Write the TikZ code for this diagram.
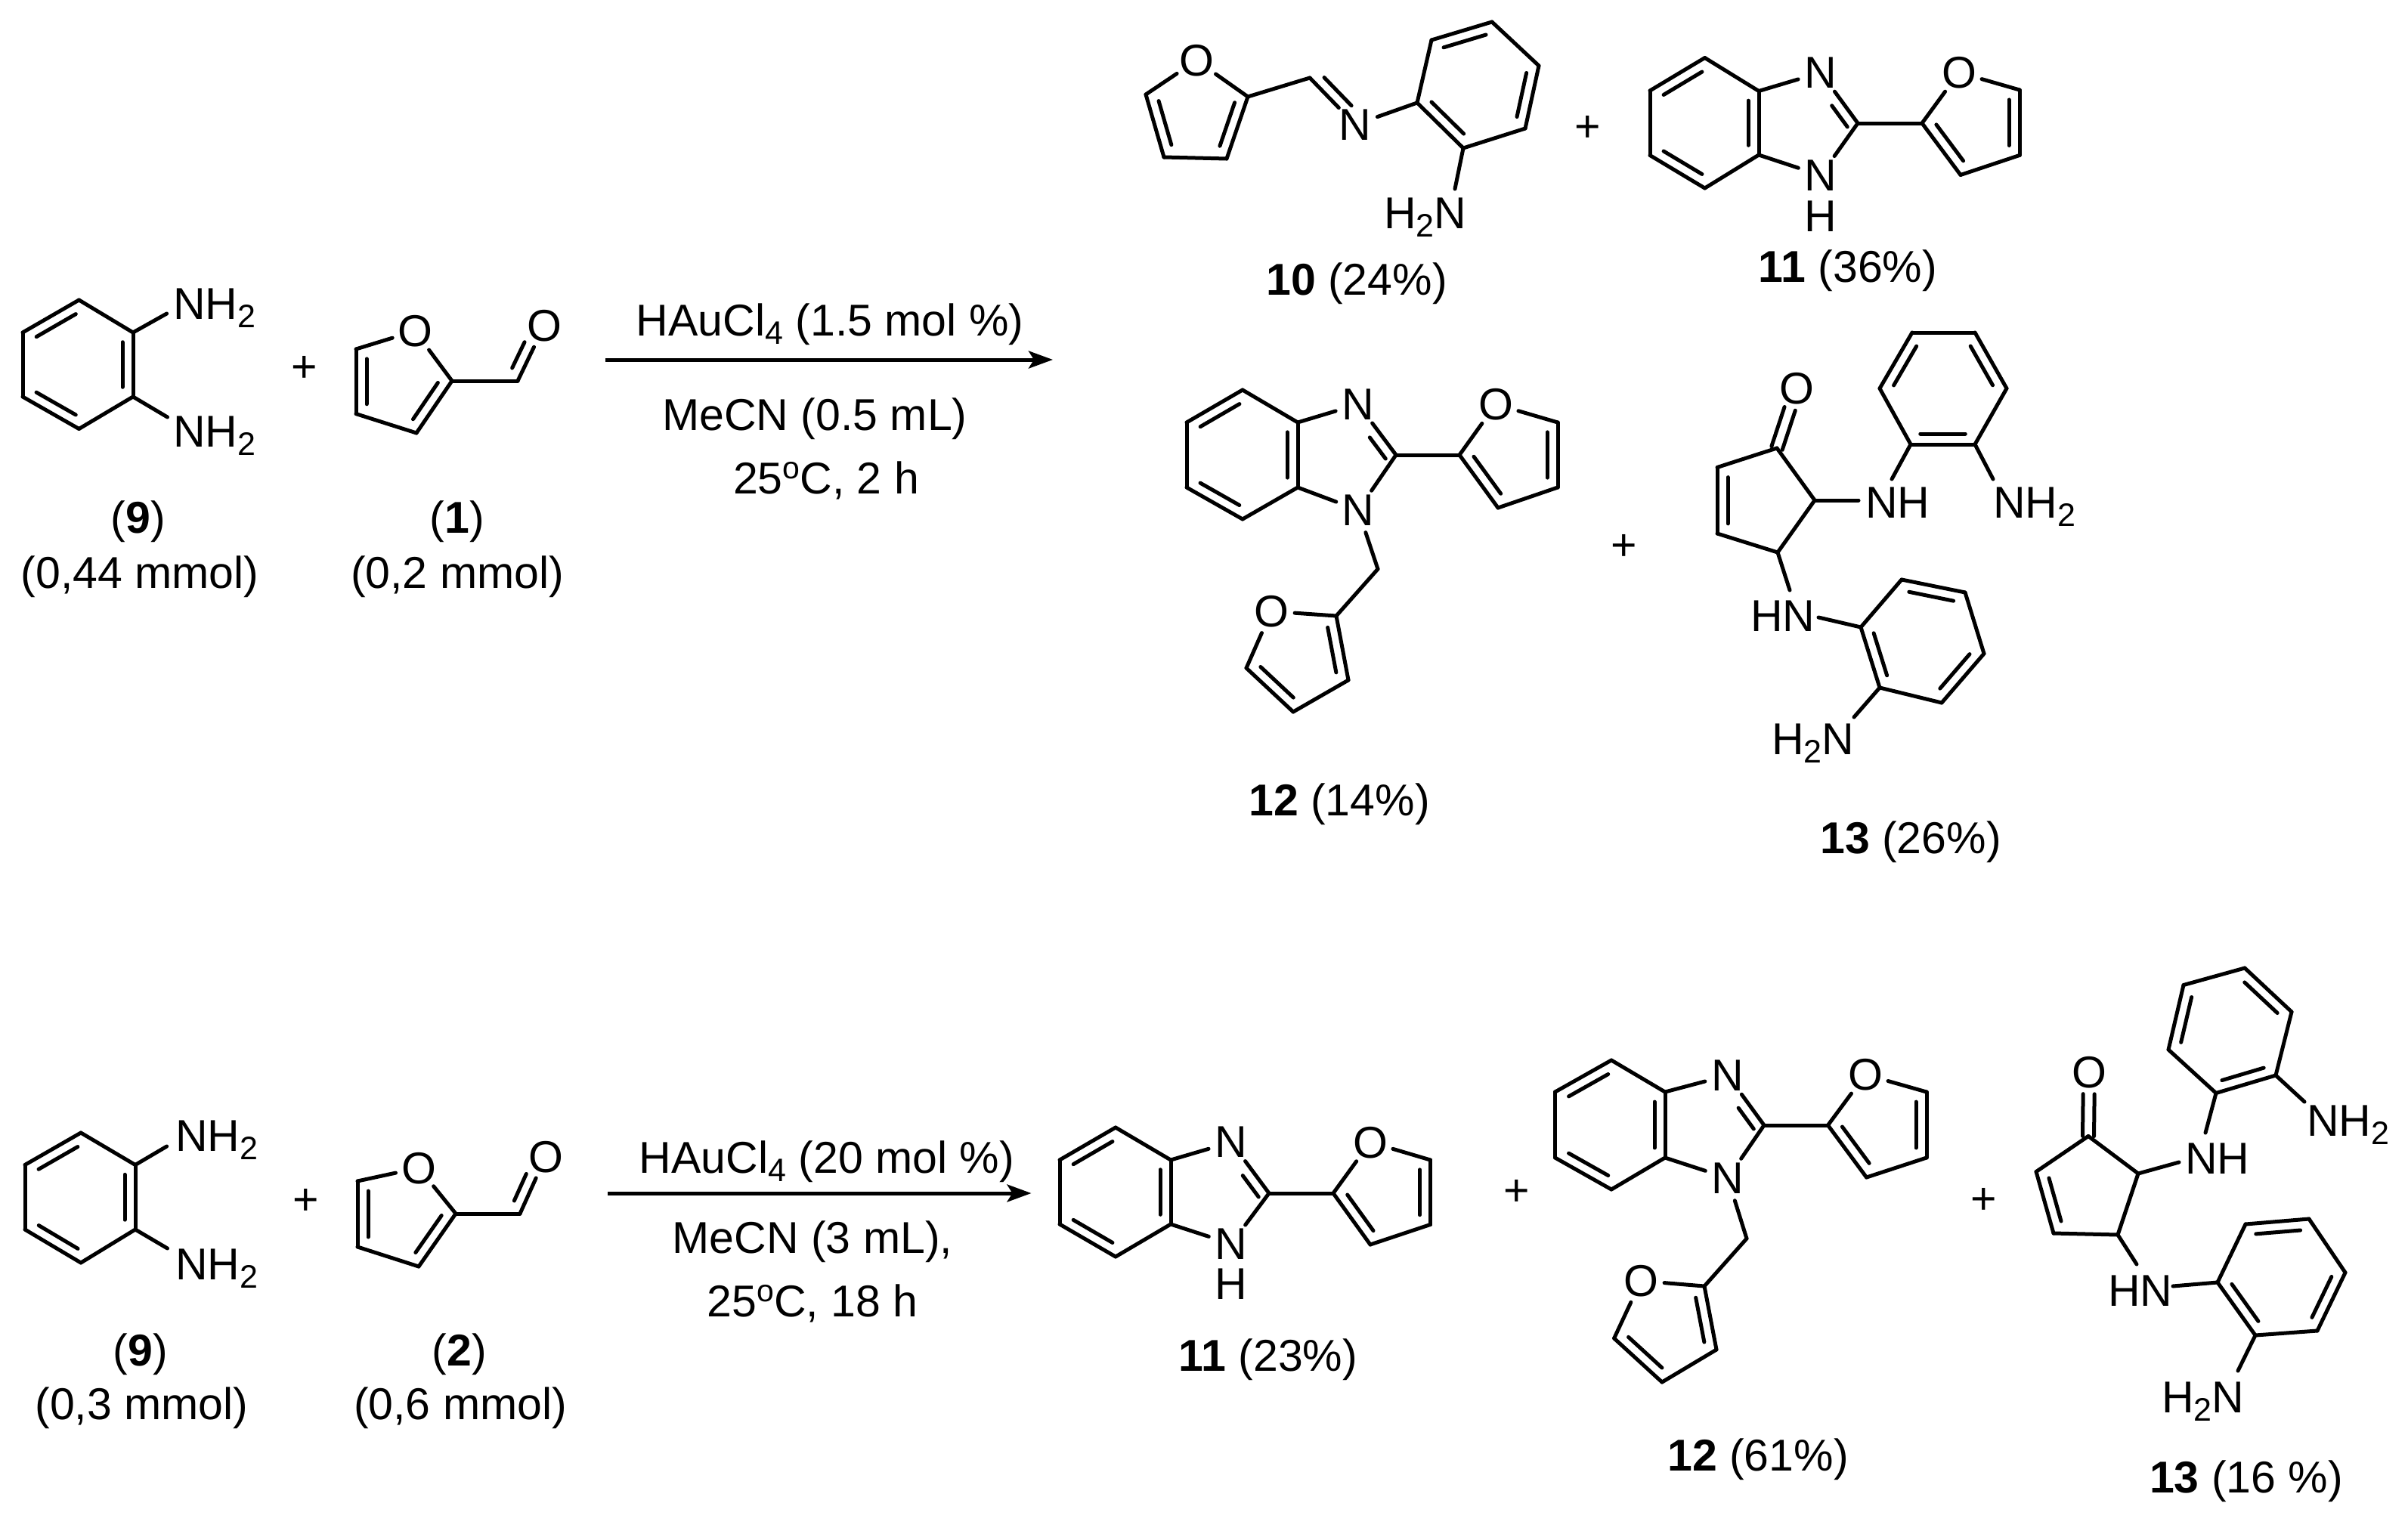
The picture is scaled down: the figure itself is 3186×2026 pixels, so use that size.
\documentclass[tikz,border=0pt]{standalone}
\usepackage{fontspec}
\setmainfont{Liberation Sans}
\usetikzlibrary{calc,arrows.meta}
\newcommand\chsub[1]{\raisebox{-11pt}{\fontsize{43}{43}\selectfont #1}}
\newcommand\chsup[1]{\raisebox{20pt}{\fontsize{41}{41}\selectfont #1}}
\newcommand\atm[3]{\coordinate (#1) at (#2,#3);}
\newcommand\het[4]{\node[hetero] (#1) at (#2,#3) {#4};}
\newcommand\bnd[2]{\draw[bond] (#1) -- (#2);}
% double bond: inner line on the right of the direction a->b
\newcommand\dbl[2]{\draw[bond] (#1) -- (#2);
  \draw[bond] ($(#1)!.15!(#2)!14pt!-90:(#2)$) -- ($(#2)!.15!(#1)!14pt!90:(#1)$);}
% double bond to a hetero atom: inner line from ratio r1 to r2
\newcommand\dpt[4]{\draw[bond] (#1) -- (#2);
  \draw[bond] ($(#1)!#3!(#2)!14pt!-90:(#2)$) -- ($(#1)!#4!(#2)!14pt!-90:(#2)$);}
% symmetric double bond a=b
\newcommand\sbl[2]{%
  \draw[bond] ($(#1)!7.5pt!90:(#2)$) -- ($(#1)!.66!(#2)!7.5pt!90:(#2)$);
  \draw[bond] ($(#1)!7.5pt!-90:(#2)$) -- ($(#1)!.66!(#2)!7.5pt!-90:(#2)$);}
\begin{document}
\begin{tikzpicture}[x=1pt,y=-1pt,
  font=\fontsize{59}{64}\selectfont,
  bond/.style={line width=5pt,line cap=round,line join=round},
  rxn/.style={line width=5pt,-{Stealth[length=32pt,width=23pt,inset=7pt]}},
  hetero/.style={circle,inner sep=0pt,minimum size=62pt,text depth=0pt},
  txtc/.style={inner sep=0pt,anchor=base},
  txtl/.style={inner sep=0pt,anchor=base west},
  pluss/.style={inner sep=0pt,anchor=center,text depth=0pt}]
\useasboundingbox (0,0) rectangle (3186,2026);
\fill[white] (0,0) rectangle (3186,2026);

% ---------- top reaction: 9 ----------
\atm{a1}{104.5}{397}\atm{a2}{176}{440}\atm{a3}{176}{525}\atm{a4}{104.5}{567.5}\atm{a5}{30}{525}\atm{a6}{30}{440}
\dbl{a6}{a1}\bnd{a1}{a2}\dbl{a2}{a3}\bnd{a3}{a4}\dbl{a4}{a5}\bnd{a5}{a6}
\node[txtl] (anh1) at (229,422) {NH\chsub{2}};
\node[txtl] (anh2) at (229,591) {NH\chsub{2}};
\atm{ae1}{220.6}{415}\atm{ae2}{221.5}{552}
\bnd{a2}{ae1}\bnd{a3}{ae2}
\node[pluss] (p1) at (403,488) {+};
% furfural 1
\het{bO}{549}{438}{O}\atm{b2}{598}{504}\atm{b3}{551}{573}\atm{b4}{471}{547.6}\atm{b5}{471}{462}\atm{b6}{685}{504}
\het{bO2}{720}{431}{O}
\bnd{bO}{b2}\dbl{b2}{b3}\bnd{b3}{b4}\dbl{b4}{b5}\bnd{b5}{bO}\bnd{b2}{b6}\dpt{bO2}{b6}{.38}{.85}
\node[txtc] (t9a) at (183,705) {(\textbf{9})};
\node[txtc] (t9b) at (185,778) {(0,44 mmol)};
\node[txtc] (t1a) at (605,705) {(\textbf{1})};
\node[txtc] (t1b) at (605,778) {(0,2 mmol)};
% arrow 1
\coordinate (r1s) at (801,476);\coordinate (r1e) at (1393,476);
\draw[rxn] (r1s) -- (r1e);
\node[txtc] (c1a) at (1098,444) {HAuCl\chsub{4} (1.5 mol \%)};
\node[txtc] (c1b) at (1078,569) {MeCN (0.5 mL)};
\node[txtc] (c1c) at (1093,653) {25\chsup{o}C, 2 h};

% ---------- 10 ----------
\het{cO}{1583}{80}{O}\atm{c2}{1651}{128}\atm{c3}{1623}{210}\atm{c4}{1540}{208}\atm{c5}{1516}{125}
\bnd{cO}{c2}\dbl{c2}{c3}\bnd{c3}{c4}\dbl{c4}{c5}\bnd{c5}{cO}
\atm{c6}{1733}{103}\het{cN}{1793}{165}{N}
\bnd{c2}{c6}\dpt{cN}{c6}{.25}{.85}
\atm{c7}{1875}{136}\atm{c8}{1894}{53}\atm{c9}{1974}{29}\atm{c10}{2036}{87}\atm{c11}{2018}{170}\atm{c12}{1936}{196}
\bnd{cN}{c7}\bnd{c7}{c8}\dbl{c8}{c9}\bnd{c9}{c10}\dbl{c10}{c11}\bnd{c11}{c12}\dbl{c12}{c7}
\node[txtl] (cnh) at (1831,302) {H\chsub{2}N};
\atm{ce}{1925}{250}\bnd{c12}{ce}
\node[txtc] (t10) at (1795,390) {\textbf{10} (24\%)};
\node[pluss] (p2) at (2101,170) {+};

% ---------- 11 top ----------
\atm{d1}{2255.6}{76.5}\atm{d2}{2327}{120.5}\atm{d3}{2327}{205}\atm{d4}{2255.6}{249}\atm{d5}{2183}{205.5}\atm{d6}{2183}{120}
\dbl{d6}{d1}\bnd{d1}{d2}\dbl{d2}{d3}\bnd{d3}{d4}\dbl{d4}{d5}\bnd{d5}{d6}
\het{dN1}{2409}{96}{N}\het{dN2}{2409}{232}{N}
\node[pluss] (dH) at (2409,286) {H};
\atm{d7}{2458}{163}
\bnd{d2}{dN1}\dpt{dN1}{d7}{.53}{.95}\bnd{d7}{dN2}\bnd{dN2}{d3}
\atm{d8}{2543}{163}\het{dO}{2592}{96}{O}\atm{d9}{2672}{119}\atm{d10}{2672}{205.5}\atm{d11}{2594}{231.5}
\bnd{d7}{d8}\bnd{d8}{dO}\bnd{dO}{d9}\dbl{d9}{d10}\bnd{d10}{d11}\dbl{d11}{d8}
\node[txtc] (t11) at (2445,373) {\textbf{11} (36\%)};

% ---------- 12 top ----------
\atm{e1}{1644}{516}\atm{e2}{1717}{559}\atm{e3}{1717}{645}\atm{e4}{1644}{687}\atm{e5}{1570}{645}\atm{e6}{1570}{559}
\dbl{e6}{e1}\bnd{e1}{e2}\dbl{e2}{e3}\bnd{e3}{e4}\dbl{e4}{e5}\bnd{e5}{e6}
\het{eN1}{1797}{535}{N}\het{eN2}{1797}{675}{N}\atm{e7}{1847}{602}
\bnd{e2}{eN1}\dpt{eN1}{e7}{.53}{.95}\bnd{e7}{eN2}\bnd{eN2}{e3}
\atm{e8}{1931}{602}\het{eO}{1979}{535}{O}\atm{e9}{2061}{559}\atm{e10}{2061}{645}\atm{e11}{1982}{672}
\bnd{e7}{e8}\bnd{e8}{eO}\bnd{eO}{e9}\dbl{e9}{e10}\bnd{e10}{e11}\dbl{e11}{e8}
\atm{e12}{1823}{753}\atm{e13}{1768}{815}\het{eO2}{1682}{809}{O}\atm{e14}{1784}{900}\atm{e15}{1711}{942}\atm{e16}{1649}{884}
\bnd{eN2}{e12}\bnd{e12}{e13}\dbl{e13}{e14}\bnd{e14}{e15}\dbl{e15}{e16}\bnd{e16}{eO2}\bnd{eO2}{e13}
\node[txtc] (t12) at (1772,1079) {\textbf{12} (14\%)};
\node[pluss] (p3) at (2149,724.5) {+};

% ---------- 13 top ----------
\het{fO}{2377}{514}{O}\atm{f1}{2351}{593}\atm{f2}{2401}{662}\atm{f3}{2352}{731}\atm{f4}{2272}{706}\atm{f5}{2272}{618.5}
\sbl{f1}{fO}\bnd{f1}{f2}\bnd{f2}{f3}\bnd{f3}{f4}\dbl{f4}{f5}\bnd{f5}{f1}
\node[txtl] (fnh) at (2468,685) {NH};
\atm{fe1}{2459}{662}\bnd{f2}{fe1}
\atm{g1}{2528}{588}\atm{g2}{2487}{514}\atm{g3}{2530}{440}\atm{g4}{2613}{440}\atm{g5}{2655}{514}\atm{g6}{2613}{588}
\bnd{g1}{g2}\dbl{g2}{g3}\bnd{g3}{g4}\dbl{g4}{g5}\bnd{g5}{g6}\dbl{g6}{g1}
\atm{ge1}{2503}{634}\atm{ge2}{2637}{634}\bnd{g1}{ge1}\bnd{g6}{ge2}
\node[txtl] (gnh) at (2637,685) {NH\chsub{2}};
\node[txtl] (fhn) at (2316,835) {HN};
\atm{fe2}{2368}{781}\bnd{f3}{fe2}
\atm{m1}{2462}{830}\atm{m2}{2516}{767}\atm{m3}{2600}{784}\atm{m4}{2625}{865}\atm{m5}{2569}{930}\atm{m6}{2487}{910}
\atm{me1}{2406}{817}\bnd{me1}{m1}
\bnd{m1}{m2}\dbl{m2}{m3}\bnd{m3}{m4}\dbl{m4}{m5}\bnd{m5}{m6}\dbl{m6}{m1}
\atm{me2}{2453}{949}\bnd{m6}{me2}
\node[txtl] (mnh) at (2344,998) {H\chsub{2}N};
\node[txtc] (t13) at (2528,1129) {\textbf{13} (26\%)};

% ---------- bottom reaction: 9 ----------
\atm{q1}{107}{1499}\atm{q2}{179}{1541.5}\atm{q3}{179}{1627}\atm{q4}{107}{1671}\atm{q5}{33}{1627}\atm{q6}{33}{1541.5}
\dbl{q6}{q1}\bnd{q1}{q2}\dbl{q2}{q3}\bnd{q3}{q4}\dbl{q4}{q5}\bnd{q5}{q6}
\node[txtl] (qnh1) at (232,1523) {NH\chsub{2}};
\node[txtl] (qnh2) at (232,1693) {NH\chsub{2}};
\atm{qe1}{220.6}{1517}\atm{qe2}{221.5}{1652}\bnd{q2}{qe1}\bnd{q3}{qe2}
\node[pluss] (p4) at (404.5,1590) {+};
% furfural 2
\het{hO}{554}{1545.5}{O}\atm{h2}{603}{1606}\atm{h3}{554}{1676}\atm{h4}{473}{1650}\atm{h5}{473}{1563}\atm{h6}{688}{1606}
\het{hO2}{722}{1530.5}{O}
\bnd{hO}{h2}\dbl{h2}{h3}\bnd{h3}{h4}\dbl{h4}{h5}\bnd{h5}{hO}\bnd{h2}{h6}\dpt{hO2}{h6}{.38}{.85}
\node[txtc] (u9a) at (186,1807) {(\textbf{9})};
\node[txtc] (u9b) at (187.5,1878) {(0,3 mmol)};
\node[txtc] (u2a) at (608,1807) {(\textbf{2})};
\node[txtc] (u2b) at (609,1878) {(0,6 mmol)};
% arrow 2
\coordinate (r2s) at (804,1579);\coordinate (r2e) at (1364.5,1579);
\draw[rxn] (r2s) -- (r2e);
\node[txtc] (c2a) at (1094,1552) {HAuCl\chsub{4} (20 mol \%)};
\node[txtc] (c2b) at (1075,1658) {MeCN (3 mL),};
\node[txtc] (c2c) at (1075,1742) {25\chsup{o}C, 18 h};

% ---------- 11 bottom ----------
\atm{i1}{1476}{1492}\atm{i2}{1549}{1535}\atm{i3}{1549}{1620}\atm{i4}{1476}{1663}\atm{i5}{1402}{1620}\atm{i6}{1402}{1535}
\dbl{i6}{i1}\bnd{i1}{i2}\dbl{i2}{i3}\bnd{i3}{i4}\dbl{i4}{i5}\bnd{i5}{i6}
\het{iN1}{1629}{1511.5}{N}\het{iN2}{1629}{1646}{N}
\node[pluss] (iH) at (1629,1699) {H};
\atm{i7}{1679}{1579}
\bnd{i2}{iN1}\dpt{iN1}{i7}{.53}{.95}\bnd{i7}{iN2}\bnd{iN2}{i3}
\atm{i8}{1764}{1579}\het{iO}{1813}{1511.5}{O}\atm{i9}{1892.5}{1535}\atm{i10}{1892.5}{1620.5}\atm{i11}{1813}{1647}
\bnd{i7}{i8}\bnd{i8}{iO}\bnd{iO}{i9}\dbl{i9}{i10}\bnd{i10}{i11}\dbl{i11}{i8}
\node[txtc] (t11b) at (1678,1814) {\textbf{11} (23\%)};
\node[pluss] (p5) at (2007,1578) {+};

% ---------- 12 bottom ----------
\atm{j1}{2132}{1403}\atm{j2}{2203}{1445}\atm{j3}{2203}{1532}\atm{j4}{2132}{1574}\atm{j5}{2057.5}{1532}\atm{j6}{2057.5}{1445}
\dbl{j6}{j1}\bnd{j1}{j2}\dbl{j2}{j3}\bnd{j3}{j4}\dbl{j4}{j5}\bnd{j5}{j6}
\het{jN1}{2286}{1423}{N}\het{jN2}{2286}{1559}{N}\atm{j7}{2334}{1489}
\bnd{j2}{jN1}\dpt{jN1}{j7}{.53}{.95}\bnd{j7}{jN2}\bnd{jN2}{j3}
\atm{j8}{2418.5}{1489}\het{jO}{2468}{1422}{O}\atm{j9}{2549}{1445}\atm{j10}{2549}{1532}\atm{j11}{2469.5}{1558}
\bnd{j7}{j8}\bnd{j8}{jO}\bnd{jO}{j9}\dbl{j9}{j10}\bnd{j10}{j11}\dbl{j11}{j8}
\atm{j12}{2311}{1639}\atm{j13}{2255}{1702}\het{jO2}{2171}{1695}{O}\atm{j14}{2271}{1786}\atm{j15}{2199}{1829}\atm{j16}{2135.6}{1771}
\bnd{jN2}{j12}\bnd{j12}{j13}\dbl{j13}{j14}\bnd{j14}{j15}\dbl{j15}{j16}\bnd{j16}{jO2}\bnd{jO2}{j13}
\node[txtc] (t12b) at (2326,1946) {\textbf{12} (61\%)};
\node[pluss] (p6) at (2624.5,1589) {+};

% ---------- 13 bottom ----------
\het{kO}{2764}{1419}{O}\atm{k1}{2763}{1503.5}\atm{k2}{2829}{1553}\atm{k3}{2802}{1634}\atm{k4}{2717}{1632}\atm{k5}{2694}{1550.5}
\sbl{k1}{kO}\bnd{k1}{k2}\bnd{k2}{k3}\bnd{k3}{k4}\dbl{k4}{k5}\bnd{k5}{k1}
\node[txtl] (knh) at (2891,1553) {NH};
\atm{ke1}{2883}{1538}\bnd{k2}{ke1}
\atm{n1}{2932}{1446.5}\atm{n2}{3011}{1423}\atm{n3}{3032}{1339}\atm{n4}{2970}{1281}\atm{n5}{2889}{1303.5}\atm{n6}{2869}{1389}
\dbl{n2}{n1}\bnd{n1}{n6}\dbl{n6}{n5}\bnd{n5}{n4}\dbl{n4}{n3}\bnd{n3}{n2}
\atm{ne1}{2918}{1499}\atm{ne2}{3049}{1458}\bnd{n1}{ne1}\bnd{n2}{ne2}
\node[txtl] (nnh) at (3052,1503) {NH\chsub{2}};
\node[txtl] (khn) at (2789,1728) {HN};
\atm{ke2}{2827}{1673}\bnd{k3}{ke2}
\atm{o1}{2934}{1697}\atm{o2}{2971}{1620}\atm{o3}{3055}{1613}\atm{o4}{3103}{1684}\atm{o5}{3066}{1761}\atm{o6}{2984}{1767}
\atm{oe1}{2875}{1702}\bnd{oe1}{o1}
\bnd{o1}{o2}\dbl{o2}{o3}\bnd{o3}{o4}\dbl{o4}{o5}\bnd{o5}{o6}\dbl{o6}{o1}
\atm{oe2}{2961}{1814}\bnd{o6}{oe2}
\node[txtl] (onh) at (2860,1869) {H\chsub{2}N};
\node[txtc] (t13b) at (2972,1975) {\textbf{13} (16 \%)};
\end{tikzpicture}
\end{document}
